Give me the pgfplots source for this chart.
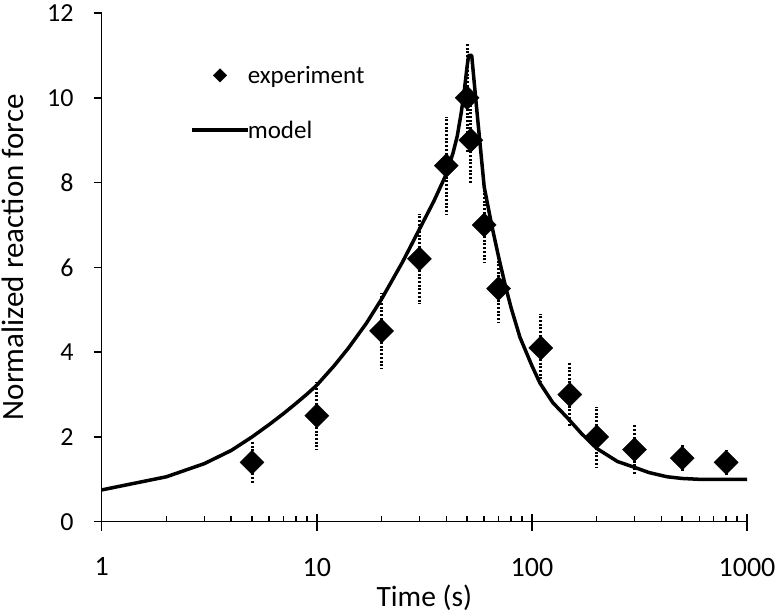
\documentclass[border=0pt]{standalone}
\usepackage{fontspec}
\setmainfont{Carlito}
\usepackage{pgfplots}
\usepackage{pgfplotstable}
\pgfplotsset{compat=1.18}
\pgfplotstableread{
x y e
5 1.4 0.5
10 2.5 0.8
20 4.5 0.9
30 6.2 1.05
40 8.4 1.15
50 10.0 1.3
52 9.0 1.0
60 7.0 0.9
70 5.5 0.8
110 4.1 0.8
150 3.0 0.75
200 2.0 0.7
300 1.7 0.6
500 1.5 0.3
800 1.4 0.3
}\experiment
\pgfplotstableread{
x y
1 0.75
2 1.06
3 1.37
4 1.68
5 2.0
6 2.29
7 2.55
8 2.79
9 3.01
10 3.22
12 3.67
14 4.09
17 4.68
20 5.25
25 6.12
30 6.9
35 7.56
40 8.2
43 8.7
45 9.1
47 9.67
48.5 10.17
50 10.75
50.8 11.0
52.5 11.0
55 9.9
60 7.9
65 7.0
70 6.25
75 5.6
80 5.05
88 4.35
100 3.68
109 3.27
125 2.81
145 2.47
170 2.08
200 1.73
250 1.42
297 1.29
350 1.16
425 1.06
500 1.02
600 1.0
1000 1.0
}\model
\begin{document}
\begin{tikzpicture}
\useasboundingbox (-101.7pt,-92.3pt) rectangle (674.3pt,521.7pt);
\begin{axis}[
  scale only axis, width=645.3pt, height=508.7pt,
  xmode=log, log basis x=10, xmin=1, xmax=1000, ymin=0, ymax=12,
  axis x line*=bottom, axis y line*=left,
  axis line style={line width=1.5pt, -},
  /pgf/number format/assume math mode=true,
  tick align=inside, major tick length=8pt, minor tick length=6pt,
  tick style={line width=1.5pt, black},
  xtick={1,10,100,1000}, xticklabels={},
  minor xtick={2,3,4,5,6,7,8,9,20,30,40,50,60,70,80,90,200,300,400,500,600,700,800,900},
  extra x ticks={1,10,100,1000}, extra x tick labels={1,10,100,1000},
  extra x tick style={tick align=outside, major tick length=9pt,
    xticklabel style={font=\fontsize{28}{32}\selectfont, anchor=north, inner sep=0pt, yshift=-27pt}},
  ytick=\empty,
  extra y ticks={0,2,4,6,8,10,12},
  extra y tick style={tick align=outside, major tick length=8pt,
    yticklabel style={font=\fontsize{26}{30}\selectfont, anchor=east, inner sep=0pt, xshift=-20pt}},
  xlabel={Time (s)}, ylabel={Normalized reaction force},
  every axis x label/.style={at={(axis description cs:0.5,-0.15)}, anchor=center, font=\fontsize{29.5}{34}\selectfont},
  every axis y label/.style={at={(axis description cs:-0.138,0.52)}, rotate=90, anchor=center, font=\fontsize{31}{36}\selectfont},
  legend style={at={(axis description cs:0.137,0.90)}, anchor=north west, draw=none, fill=none, inner sep=0pt, font=\fontsize{25}{30}\selectfont, row sep=32pt, column sep=-4pt},
  legend cell align=left,
]
\addplot[only marks, mark=square*, mark size=8.5pt, mark options={rotate=45, fill=black, draw=black}, black,
  legend image code/.code={\path[draw=none, fill=none] (0pt,0pt) -- (56pt,0pt); \fill[black] (21.3pt,0pt) -- (28pt,6.7pt) -- (34.7pt,0pt) -- (28pt,-6.7pt) -- cycle;},
  error bars/.cd, y dir=both, y explicit, error mark=none,
  error bar style={line width=3pt, dash pattern=on 2pt off 1.7pt}]
  table[x=x, y=y, y error=e] {\experiment};
\addlegendentry{experiment}
\addplot[black, line width=3.5pt, line join=round, no marks,
  legend image code/.code={\draw[line width=3.5pt] (0pt,0pt) -- (56pt,0pt);}]
  table[x=x, y=y] {\model};
\addlegendentry{model}
\end{axis}
\end{tikzpicture}
\end{document}
